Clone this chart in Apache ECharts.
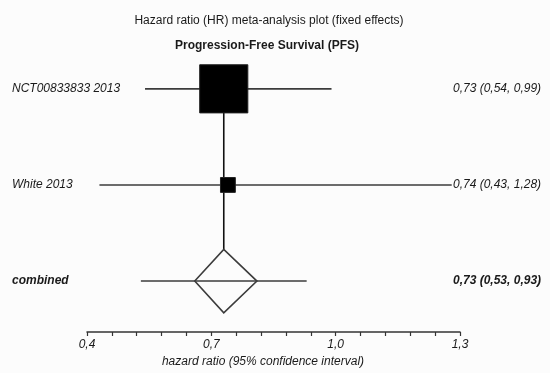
<!DOCTYPE html>
<html><head><meta charset="utf-8">
<script src="https://cdn.jsdelivr.net/npm/echarts@6/dist/echarts.min.js"></script>
<style>html,body{margin:0;padding:0;background:#fcfcfc}#c{width:550px;height:373px}</style>
</head><body><div id="c"></div>
<script>
// ---- data ----
const studies = ['NCT00833833 2013', 'White 2013', 'combined'];
const hr = [0.73, 0.74, 0.73];
const ciLow = [0.54, 0.43, 0.53];
const ciHigh = [0.99, 1.28, 0.93];
const diamondLow = [0.66];
const diamondHigh = [0.81];
const xTickLabels = [0.4, 0.7, 1.0, 1.3];
const minorStep = 0.06;

// ---- helpers ----
const FONT = '"Liberation Sans", Arial, sans-serif';
const INK = '#1a1a1a';
const LINE = '#3c3c3c';
const n = studies.length;
const fmt = v => v.toFixed(2).replace('.', ',');
const rowY = i => n - 1 - i;

// inverse-variance weights of the individual studies -> box size
const se = ciLow.map((lo, i) => (Math.log(ciHigh[i]) - Math.log(lo)) / (2 * 1.96));
const w = se.slice(0, n - 1).map(s => 1 / (s * s));
const wSum = w.reduce((a, b) => a + b, 0);
const boxSide = w.map(x => 63 * x / wSum);

const xMin = xTickLabels[0], xMax = xTickLabels[xTickLabels.length - 1];
const tickVals = [];
for (let k = 0; xMin + k * minorStep <= xMax + 1e-9; k++) tickVals.push(+(xMin + k * minorStep).toFixed(2));

const chart = echarts.init(document.getElementById('c'), null, {renderer: 'canvas'});
chart.setOption({
  backgroundColor: '#fcfcfc',
  animation: false,
  title: [
    {text: 'Hazard ratio (HR) meta-analysis plot (fixed effects)', left: 264, top: 10, textAlign: 'center',
     textStyle: {fontFamily: FONT, fontSize: 12, fontWeight: 'normal', color: INK}},
    {text: 'Progression-Free Survival (PFS)', left: 262, top: 35, textAlign: 'center',
     textStyle: {fontFamily: FONT, fontSize: 12, fontWeight: 'bold', color: INK}}
  ],
  grid: {left: 87, right: 90, top: 60, bottom: 39},
  xAxis: {
    type: 'value', min: xMin, max: xMax,
    axisLine: {show: true, onZero: false, lineStyle: {color: '#333', width: 1.5}},
    axisTick: {show: true, customValues: tickVals, length: 4, inside: false, lineStyle: {color: '#333', width: 1.2}},
    axisLabel: {customValues: xTickLabels, margin: 7, fontFamily: FONT, fontSize: 12, fontStyle: 'italic', color: INK,
      formatter: v => v.toFixed(1).replace('.', ',')},
    splitLine: {show: false},
    name: 'hazard ratio (95% confidence interval)', nameLocation: 'middle', nameGap: 24,
    nameTextStyle: {fontFamily: FONT, fontSize: 12, fontStyle: 'italic', color: INK, padding: [0, 21, 0, 0]}
  },
  yAxis: [
    {type: 'value', min: -0.53, max: 2.3, position: 'left',
     axisLine: {show: false}, axisTick: {show: false}, splitLine: {show: false},
     axisLabel: {customValues: studies.map((s, i) => rowY(i)), align: 'left', margin: 75,
       fontFamily: FONT, fontSize: 12, fontStyle: 'italic', color: INK,
       formatter: v => { const i = n - 1 - Math.round(v); return i === n - 1 ? '{b|' + studies[i] + '}' : studies[i]; },
       rich: {b: {fontFamily: FONT, fontSize: 12, fontStyle: 'italic', fontWeight: 'bold', color: INK}}}},
    {type: 'value', min: -0.53, max: 2.3, position: 'right',
     axisLine: {show: false}, axisTick: {show: false}, splitLine: {show: false},
     axisLabel: {customValues: studies.map((s, i) => rowY(i)), align: 'left', margin: -7,
       fontFamily: FONT, fontSize: 12, fontStyle: 'italic', color: INK,
       formatter: v => { const i = n - 1 - Math.round(v);
         const t = fmt(hr[i]) + ' (' + fmt(ciLow[i]) + ', ' + fmt(ciHigh[i]) + ')';
         return i === n - 1 ? '{b|' + t + '}' : t; },
       rich: {b: {fontFamily: FONT, fontSize: 12, fontStyle: 'italic', fontWeight: 'bold', color: INK}}}}
  ],
  series: [{
    type: 'custom',
    coordinateSystem: 'cartesian2d',
    xAxisIndex: 0, yAxisIndex: 0,
    data: studies.map((s, i) => [hr[i], rowY(i), ciLow[i], ciHigh[i], i]),
    encode: {x: [0, 2, 3], y: 1},
    renderItem: (params, api) => {
      const i = api.value(4);
      const y = api.value(1);
      const lo = api.coord([api.value(2), y]);
      const hi = api.coord([api.value(3), y]);
      const c = api.coord([api.value(0), y]);
      const children = [];
      children.push({type: 'line', shape: {x1: lo[0], y1: lo[1], x2: hi[0], y2: hi[1]},
        style: {stroke: LINE, lineWidth: 1.6}});
      if (i < n - 1) {
        if (i === 0) {
          const top = api.coord([hr[n - 1], rowY(0)]);
          const bot = api.coord([hr[n - 1], rowY(n - 1) + 0.33]);
          children.unshift({type: 'line', shape: {x1: top[0], y1: top[1], x2: bot[0], y2: bot[1]},
            style: {stroke: '#111', lineWidth: 1.6}});
        }
        const s = boxSide[i];
        children.push({type: 'rect', shape: {x: c[0] - s / 2, y: c[1] - s / 2, width: s, height: s},
          style: {fill: '#000', stroke: '#222', lineWidth: 1}});
      } else {
        const l = api.coord([diamondLow[0], y]);
        const r = api.coord([diamondHigh[0], y]);
        const t = api.coord([api.value(0), y + 0.33]);
        const b = api.coord([api.value(0), y - 0.33]);
        children.push({type: 'polygon', shape: {points: [l, t, r, b]},
          style: {fill: 'none', stroke: LINE, lineWidth: 1.6}});
      }
      return {type: 'group', children};
    }
  }]
});
</script></body></html>
